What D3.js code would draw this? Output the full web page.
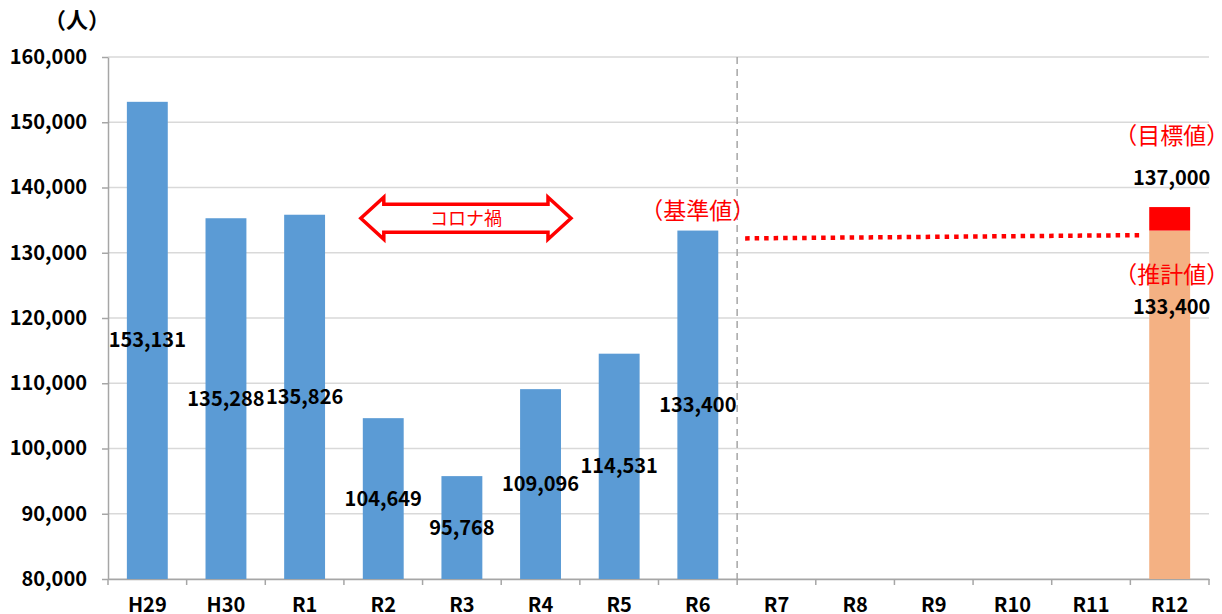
<!DOCTYPE html>
<html>
<head>
<meta charset="utf-8">
<script src="https://cdn.jsdelivr.net/npm/d3@7/dist/d3.min.js"></script>
<style>
body{margin:0;background:#fff;}
text{font-family:"Noto Sans CJK JP","Noto Sans",sans-serif;}
</style>
</head>
<body>
<div id="chart"></div>
<script>
// data
var categories = ["H29","H30","R1","R2","R3","R4","R5","R6","R7","R8","R9","R10","R11","R12"];
var actual = [153131,135288,135826,104649,95768,109096,114531,133400,null,null,null,null,null,null];
var estimate = {cat:"R12", value:133400};
var target = {cat:"R12", value:137000};
var yTicks = [80000,90000,100000,110000,120000,130000,140000,150000,160000];
var dotLine = [{cat:"R7", value:132200},{cat:"R12", value:132700}];

var margin = {top:57, right:13, bottom:35, left:108},
	W = 1222, H = 614,
	width = W - margin.left - margin.right,
	height = H - margin.top - margin.bottom;

var fmt = d3.format(",");

var x = d3.scaleBand().domain(categories).range([0,width]).paddingInner(0.48).paddingOuter(0.24);
var y = d3.scaleLinear().domain([80000,160000]).range([height,0]);
var step = x.step();
var edge = function(c){ return x(c) - step*0.24; };   // left boundary of category slot

var svg = d3.select("#chart").append("svg")
	.attr("width",W)
	.attr("height",H)
	.append("g")
	.attr("transform","translate(" + margin.left + "," + margin.top + ")");

// gridlines
svg.append("g").selectAll("line")
	.data(yTicks)
	.enter().append("line")
	.attr("x1",0).attr("x2",width)
	.attr("y1",function(d){return y(d);})
	.attr("y2",function(d){return y(d);})
	.attr("stroke","#d9d9d9")
	.attr("stroke-width",1.3);

// y axis
var yAxis = d3.axisLeft(y).tickValues(yTicks).tickFormat(fmt).tickSizeInner(6).tickSizeOuter(0).tickPadding(15);
var gy = svg.append("g").call(yAxis);
gy.select(".domain").attr("stroke","#a6a6a6").attr("stroke-width",1.5);
gy.selectAll(".tick line").attr("stroke","#a6a6a6").attr("stroke-width",1.5);
gy.selectAll("text")
	.style("font-size","20px")
	.style("font-weight","bold")
	.attr("fill","#000");

// unit
svg.append("text")
	.attr("x",77 - margin.left)
	.attr("y",-29)
	.attr("text-anchor","middle")
	.style("font-size","22px")
	.style("font-weight","bold")
	.text("（人）");

// x axis
var xAxis = d3.axisBottom(x).tickSize(0).tickPadding(0);
var gx = svg.append("g").attr("transform","translate(0," + height + ")").call(xAxis);
gx.select(".domain").attr("stroke","#a6a6a6").attr("stroke-width",1.5);
gx.selectAll("text")
	.attr("y",33)
	.attr("dy",null)
	.style("font-size","20px")
	.style("font-weight","bold")
	.attr("fill","#000");
// boundary ticks
svg.append("g").selectAll("line")
	.data(categories.concat(["end"]))
	.enter().append("line")
	.attr("x1",function(d,i){return i*step;})
	.attr("x2",function(d,i){return i*step;})
	.attr("y1",height).attr("y2",height+6)
	.attr("stroke","#a6a6a6")
	.attr("stroke-width",1.5);

// divider between actual and future
svg.append("line")
	.attr("x1",edge("R7")).attr("x2",edge("R7"))
	.attr("y1",0).attr("y2",height)
	.attr("stroke","#a6a6a6")
	.attr("stroke-width",1.5)
	.attr("stroke-dasharray","7,5");

// blue bars
var bars = categories.map(function(c,i){return {cat:c, value:actual[i]};}).filter(function(d){return d.value!=null;});

svg.selectAll(".bar")
	.data(bars)
	.enter().append("rect")
	.attr("class","bar")
	.attr("x",function(d){return x(d.cat);})
	.attr("width",x.bandwidth())
	.attr("y",function(d){return y(d.value);})
	.attr("height",function(d){return height - y(d.value);})
	.style("fill","#5b9bd5");

svg.selectAll(".lbl")
	.data(bars)
	.enter().append("text")
	.attr("class","lbl")
	.attr("x",function(d){return x(d.cat) + x.bandwidth()/2;})
	.attr("y",function(d){return (y(d.value) + height)/2;})
	.attr("dy","0.35em")
	.attr("text-anchor","middle")
	.style("font-size","20px")
	.style("font-weight","bold")
	.text(function(d){return fmt(d.value);});

// R12 stacked bar
svg.append("rect")
	.attr("x",x(estimate.cat))
	.attr("width",x.bandwidth())
	.attr("y",y(estimate.value))
	.attr("height",height - y(estimate.value))
	.style("fill","#f4b183");
svg.append("rect")
	.attr("x",x(target.cat))
	.attr("width",x.bandwidth())
	.attr("y",y(target.value))
	.attr("height",y(estimate.value) - y(target.value))
	.style("fill","#ff0000");

// dotted line
svg.append("line")
	.attr("x1",edge(dotLine[0].cat) + 8)
	.attr("x2",x(dotLine[1].cat) - 9)
	.attr("y1",y(dotLine[0].value))
	.attr("y2",y(dotLine[1].value))
	.attr("stroke","#ff0000")
	.attr("stroke-width",4.5)
	.attr("stroke-dasharray","4.5,5");

// annotations
var cx12 = x("R12") + x.bandwidth()/2 + 2;
svg.append("text")
	.attr("x",cx12).attr("y",y(target.value) - 63)
	.attr("text-anchor","middle")
	.style("font-size","23px").attr("fill","#ff0000")
	.text("（目標値）");
svg.append("text")
	.attr("x",cx12).attr("y",y(target.value) - 22)
	.attr("text-anchor","middle")
	.style("font-size","20px").style("font-weight","bold")
	.text(fmt(target.value));
svg.append("text")
	.attr("x",cx12).attr("y",y(estimate.value) + 52)
	.attr("text-anchor","middle")
	.style("font-size","23px").attr("fill","#ff0000")
	.text("（推計値）");
svg.append("text")
	.attr("x",cx12).attr("y",y(estimate.value) + 83)
	.attr("text-anchor","middle")
	.style("font-size","20px").style("font-weight","bold")
	.text(fmt(estimate.value));

svg.append("text")
	.attr("x",x("R6") + x.bandwidth()/2)
	.attr("y",y(actual[7]) - 12)
	.attr("text-anchor","middle")
	.style("font-size","23px").attr("fill","#ff0000")
	.text("（基準値）");

// コロナ禍 double arrow (R2 .. R4)
var ax0 = x("R2") - 2, ax1 = x("R4") + x.bandwidth() + 10,
	ay = y(135300), hl = 23, sh = 14, hh = 21;
var pts = [[ax0,ay],[ax0+hl,ay-hh],[ax0+hl,ay-sh],[ax1-hl,ay-sh],[ax1-hl,ay-hh],[ax1,ay],
	[ax1-hl,ay+hh],[ax1-hl,ay+sh],[ax0+hl,ay+sh],[ax0+hl,ay+hh]];
svg.append("path")
	.attr("d",d3.line()(pts) + "Z")
	.attr("fill","#fff")
	.attr("stroke","#ff0000")
	.attr("stroke-width",3.5)
	.attr("stroke-linejoin","miter");
svg.append("text")
	.attr("x",(ax0+ax1)/2)
	.attr("y",ay)
	.attr("dy","0.36em")
	.attr("text-anchor","middle")
	.style("font-size","18px").attr("fill","#ff0000")
	.text("コロナ禍");
</script>
</body>
</html>
